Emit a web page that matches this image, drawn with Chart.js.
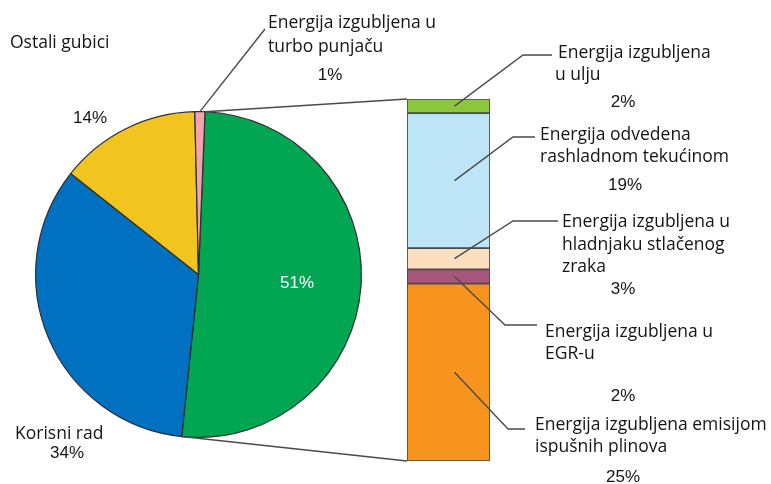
<!DOCTYPE html>
<html><head><meta charset="utf-8">
<script src="https://cdn.jsdelivr.net/npm/chart.js@4"></script>
<style>
html,body{margin:0;padding:0;background:#fff;overflow:hidden}
#wrap{position:relative;width:771px;height:484px}
canvas{position:absolute;left:0;top:0}
</style></head><body>
<div id="wrap"><canvas id="pie" width="771" height="484"></canvas><canvas id="bar" width="771" height="484"></canvas></div>
<script>
// ---- data ----
const pieCategories = ['Toplinski gubici', 'Korisni rad', 'Ostali gubici', 'Energija izgubljena u turbo punjaču'];
const pieValues = [51, 34, 14, 1];
const barCategories = ['Energija izgubljena emisijom ispušnih plinova', 'Energija izgubljena u EGR-u', 'Energija izgubljena u hladnjaku stlačenog zraka', 'Energija odvedena rashladnom tekućinom', 'Energija izgubljena u ulju'];
const barValues = [25, 2, 3, 19, 2];
const barLabelLines = [
  ['Energija izgubljena emisijom', 'ispušnih plinova'],
  ['Energija izgubljena u', 'EGR-u'],
  ['Energija izgubljena u', 'hladnjaku stlačenog', 'zraka'],
  ['Energija odvedena', 'rashladnom tekućinom'],
  ['Energija izgubljena', 'u ulju']
];
const turboLines = ['Energija izgubljena u', 'turbo punjaču'];

// ---- styles / layout ----
const pieColors = ['#00A651', '#0070C0', '#F2C420', '#F4A3AE'];
const barColors = ['#F7941D', '#A5567A', '#FDDFBF', '#BDE4F7', '#8DC63F'];
const TEXT = '#141414', LINE = '#4a4a4a';
const LABEL_FONT = '17.5px "Open Sans"';
const PCT_FONT = '17px "Liberation Sans"';
const barLabelLayout = [
  {elbow:[508,429], end:[525,429], lines:[[535,430],[535,452]], pct:[623,482]},
  {elbow:[505,325], end:[537,325], lines:[[545,337],[545,359]], pct:[623,401]},
  {elbow:[513,221], end:[558,221], lines:[[562,227],[562,250],[562,272]], pct:[623,294]},
  {elbow:[513,137], end:[535,137], lines:[[540,140],[540,162]], pct:[625,190]},
  {elbow:[523,55], end:[552,55], lines:[[558,58],[555,80]], pct:[623,107]}
];

const pieChart = new Chart(document.getElementById('pie'), {
  type: 'pie',
  data: { labels: pieCategories, datasets: [{ data: pieValues, backgroundColor: pieColors, borderColor: '#2e2e2e', borderWidth: 1.2 }] },
  options: {
    responsive: false, animation: false, devicePixelRatio: 1, rotation: 2.3,
    layout: { padding: { left: 35, right: 409, top: 111, bottom: 46 } },
    plugins: { legend: { display: false }, tooltip: { enabled: false } }
  }
});

const barTotal = barValues.reduce((a, b) => a + b, 0);

function arcPoint(arc, ang) {
  return [arc.x + arc.outerRadius * Math.cos(ang), arc.y + arc.outerRadius * Math.sin(ang)];
}
function line(ctx, pts) {
  ctx.beginPath();
  ctx.moveTo(pts[0][0], pts[0][1]);
  for (let i = 1; i < pts.length; i++) ctx.lineTo(pts[i][0], pts[i][1]);
  ctx.stroke();
}

const annotPlugin = {
  id: 'annot',
  afterDraw(chart) {
    const ctx = chart.ctx;
    ctx.save();
    ctx.strokeStyle = LINE; ctx.lineWidth = 1.4;
    const arcs = pieChart.getDatasetMeta(0).data;
    const green = arcs[0], pink = arcs[3];
    const topEl = chart.getDatasetMeta(barValues.length - 1).data[0];
    const botEl = chart.getDatasetMeta(0).data[0];
    const left = topEl.x - topEl.width / 2;
    // connectors pie -> bar
    line(ctx, [arcPoint(green, green.startAngle), [left, topEl.y]]);
    line(ctx, [arcPoint(green, green.endAngle), [left, botEl.base]]);
    // turbo leader
    line(ctx, [arcPoint(pink, (pink.startAngle + pink.endAngle) / 2), [265, 29]]);
    // bar leaders
    barValues.forEach((v, i) => {
      const el = chart.getDatasetMeta(i).data[0];
      const L = barLabelLayout[i];
      line(ctx, [[el.x + 6, (el.y + el.base) / 2], L.elbow, L.end]);
    });
    // texts
    ctx.fillStyle = TEXT; ctx.textBaseline = 'alphabetic';
    ctx.font = LABEL_FONT; ctx.textAlign = 'left';
    barValues.forEach((v, i) => {
      const L = barLabelLayout[i];
      barLabelLines[i].forEach((t, j) => ctx.fillText(t, L.lines[j][0], L.lines[j][1]));
    });
    ctx.fillText(turboLines[0], 268, 28);
    ctx.fillText(turboLines[1], 268, 52);
    ctx.fillText(pieCategories[2], 10, 48);
    ctx.fillText(pieCategories[1], 15, 439);
    ctx.font = PCT_FONT; ctx.textAlign = 'center';
    barValues.forEach((v, i) => {
      const L = barLabelLayout[i];
      ctx.fillText(v + '%', L.pct[0], L.pct[1]);
    });
    ctx.fillText(pieValues[3] + '%', 330, 80);
    ctx.fillText(pieValues[2] + '%', 90, 123);
    ctx.fillText(pieValues[1] + '%', 67, 458);
    ctx.fillStyle = '#ffffff';
    ctx.fillText(pieValues[0] + '%', 297, 288);
    ctx.restore();
  }
};

new Chart(document.getElementById('bar'), {
  type: 'bar',
  data: {
    labels: ['Energija'],
    datasets: barValues.map((v, i) => ({
      label: barCategories[i], data: [v], backgroundColor: barColors[i],
      borderColor: '#4a4a4a', borderWidth: 1.2, borderSkipped: false,
      barPercentage: 1, categoryPercentage: 1
    }))
  },
  options: {
    responsive: false, animation: false, devicePixelRatio: 1,
    layout: { padding: { left: 407, right: 281, top: 99, bottom: 23 } },
    scales: {
      x: { display: false, stacked: true },
      y: { display: false, stacked: true, min: 0, max: barTotal }
    },
    plugins: { legend: { display: false }, tooltip: { enabled: false } }
  },
  plugins: [annotPlugin]
});
</script>
</body></html>
